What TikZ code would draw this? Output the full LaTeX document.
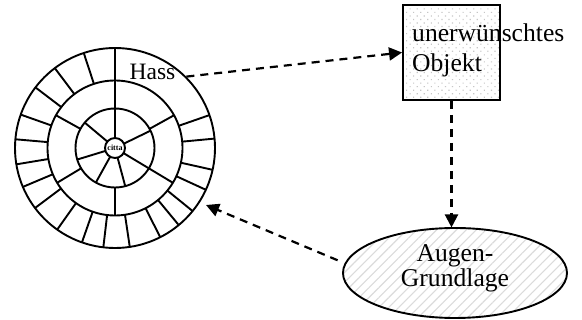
\documentclass[tikz,border=0pt]{standalone}
\usepackage{fontspec}
\setmainfont{Liberation Serif}
\usetikzlibrary{arrows.meta,shapes.geometric,patterns.meta}
\begin{document}
\begin{tikzpicture}[x=1pt,y=-1pt,
  ring/.style={circle,draw,line width=1.9pt,inner sep=0pt},
  spoke/.style={line width=1.9pt},
  conn/.style={line width=2.2pt,dash pattern=on 8pt off 6pt,-{Triangle[length=13pt,width=13pt]}},
  lbl/.style={inner sep=0pt,font=\fontsize{25.6}{30}\selectfont},
]
\fill[white] (0,0) rectangle (582,320);
\useasboundingbox (0,0) rectangle (582,320);
% wheel
\node[ring,minimum size=200pt] (outer) at (115,148) {};
\node[ring,minimum size=135pt] (middle) at (115,148) {};
\node[ring,minimum size=79pt] (inner) at (115,148) {};
\begin{scope}[shift={(115,148)},yscale=-1]
  \foreach \a in {90,26,329,285,241,197,140} \draw[spoke] (\a:10) -- (\a:39.5);
  \foreach \a in {90,29,151,211,270,329} \draw[spoke] (\a:39.5) -- (\a:67.5);
  \foreach \a in {5.4,19.2,90,108.2,127,142.7,160.5,175,189.4,202.9,216.9,234.7,250.7,263.3,278.5,296.9,309.6,320.9,335.3,347.4}
    \draw[spoke] (\a:67.5) -- (\a:100);
\end{scope}
\node[ring,minimum size=20pt,fill=white,font=\bfseries\fontsize{8}{8}\selectfont] (citta) at (115,148) {citta};
\node[inner sep=0pt,anchor=base west,font=\fontsize{23.5}{28}\selectfont] (hass) at (129.5,80) {Hass};
% box
\node[draw,line width=1.9pt,minimum width=97pt,minimum height=95pt,inner sep=0pt,
  pattern={Dots[distance=5pt,angle=45,radius=0.8pt]},pattern color=gray!45] (box) at (451.5,52.5) {};
\node[lbl,anchor=base west,align=left] (boxtext) at (412,71.7) {unerwünschtes\\Objekt};
% ellipse
\node[ellipse,draw,line width=1.9pt,minimum width=224pt,minimum height=90pt,
  pattern={Lines[angle=45,distance=7pt,line width=1.1pt]},pattern color=gray!28] (ell) at (455,273) {};
\node[lbl,anchor=base,align=center,font=\fontsize{25.6}{25}\selectfont] (elltext) at (455,286.7) {Augen-\\Grundlage};
% connectors
\coordinate (t3) at (206,205);
\draw[conn] (outer.45) -- (box.west);
\draw[conn] (box.south) -- (box.south |- ell.north);
\draw[conn,shorten <=8pt] (ell.175) -- (t3);
\end{tikzpicture}
\end{document}
